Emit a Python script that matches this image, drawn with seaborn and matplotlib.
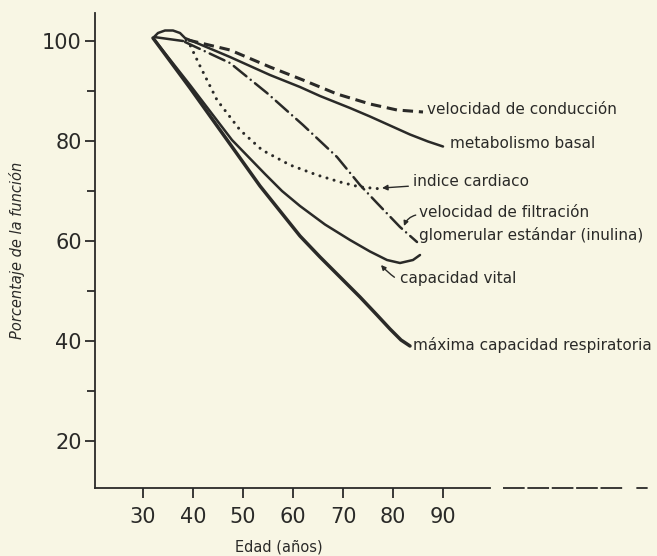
import matplotlib.pyplot as plt
import numpy as np
import pandas as pd
import seaborn as sns

# -------------------------- datos --------------------------
# edad (años) y porcentaje de la función
edad_conduccion = [39.0, 47.4, 55.4, 62.0, 68.8, 75.4, 80.8, 86.0]
pct_conduccion = [100.2, 98.2, 94.8, 92.2, 89.4, 87.4, 86.2, 85.8]

# el bucle inicial forma parte del trazo del metabolismo basal
edad_metabolismo = [38.0, 32.2, 33.0, 34.4, 36.0, 37.4, 38.4, 47.4, 55.4, 61.4, 65.4, 71.4,
                    75.4, 79.4, 83.4, 87.0, 90.0]
pct_metabolismo = [100.0, 100.8, 101.6, 102.1, 102.1, 101.6, 100.6, 96.8, 93.2, 90.8, 89.0, 86.6,
                   84.9, 83.1, 81.3, 79.9, 78.9]

edad_cardiaco = [38.6, 39.4, 41.4, 44.8, 49.4, 53.8, 59.4, 64.8, 69.4, 73.4, 77.8]
pct_cardiaco = [100.2, 99.2, 95.0, 88.2, 82.2, 78.2, 75.2, 73.2, 71.8, 70.8, 70.4]

edad_filtracion = [38.4, 47.4, 54.8, 62.0, 68.8, 73.4, 76.8, 81.4, 84.8]
pct_filtracion = [99.8, 95.6, 89.6, 83.2, 76.8, 71.2, 67.6, 62.8, 59.8]

edad_vital = [32.0, 39.4, 47.8, 54.4, 57.8, 61.4, 66.4, 71.4, 75.4, 78.8, 81.4, 84.0, 85.4]
pct_vital = [100.6, 91.2, 80.2, 73.4, 70.0, 67.0, 63.3, 60.2, 57.9, 56.2, 55.6, 56.2, 57.2]

edad_maxima = [32.0, 39.4, 46.4, 53.4, 61.4, 65.4, 69.4, 73.4, 76.8, 79.4, 81.6, 83.4]
pct_maxima = [100.6, 90.6, 80.8, 71.0, 61.0, 56.8, 52.8, 48.8, 45.2, 42.4, 40.2, 39.0]

x_ticks = [30, 40, 50, 60, 70, 80, 90]
y_ticks = [20, 40, 60, 80, 100]
y_minor = [30, 50, 70, 90]

# -------------------------- estilo --------------------------
fondo = '#f8f6e4'
tinta = '#2a2a28'

sns.set_theme(style='ticks')
plt.rcParams['font.family'] = ['DejaVu Sans']
plt.rcParams['axes.unicode_minus'] = False

fig = plt.figure(figsize=(6.57, 5.56), dpi=100, facecolor=fondo)
ax = fig.add_axes([95 / 657, 68 / 556, 395 / 657, 475 / 556], facecolor=fondo)


def curva(edad, pct, **kw):
    df = pd.DataFrame({'edad': edad, 'pct': pct})
    sns.lineplot(data=df, x='edad', y='pct', ax=ax, sort=False, estimator=None,
                 color=tinta, **kw)


curva(edad_conduccion, pct_conduccion, linewidth=2.2, linestyle=(0, (3.4, 1.9)))
curva(edad_metabolismo, pct_metabolismo, linewidth=1.8)
curva(edad_cardiaco, pct_cardiaco, linewidth=2.2, linestyle=(0, (0.01, 2.4)),
      dash_capstyle='round')
curva(edad_filtracion, pct_filtracion, linewidth=1.8, linestyle=(0, (6.5, 2.2, 0.01, 2.2)),
      dash_capstyle='round')
curva(edad_vital, pct_vital, linewidth=1.8)
curva(edad_maxima, pct_maxima, linewidth=2.5)

# -------------------------- rótulos de las curvas --------------------------
fs = 11
ax.text(86.8, 86.2, 'velocidad de conducción', fontsize=fs, color=tinta, va='center', clip_on=False)
ax.text(91.4, 79.6, 'metabolismo basal', fontsize=fs, color=tinta, va='center', clip_on=False)
ax.annotate('indice cardiaco', xy=(77.8, 70.6), xytext=(84.0, 71.8), fontsize=fs, color=tinta,
            va='center', annotation_clip=False,
            arrowprops=dict(arrowstyle='-|>', color=tinta, lw=1.0, mutation_scale=8,
                            shrinkA=1, shrinkB=0))
ax.annotate('velocidad de filtración\nglomerular estándar (inulina)', xy=(82.2, 63.0),
            xytext=(85.2, 63.4), fontsize=fs, color=tinta, va='center', linespacing=1.55,
            annotation_clip=False,
            arrowprops=dict(arrowstyle='-|>', color=tinta, lw=1.0, mutation_scale=7,
                            shrinkA=0, shrinkB=0, relpos=(0, 0.75),
                            connectionstyle='arc3,rad=0.3'))
ax.annotate('capacidad vital', xy=(77.6, 55.2), xytext=(81.4, 52.6), fontsize=fs, color=tinta,
            va='center', annotation_clip=False,
            arrowprops=dict(arrowstyle='-|>', color=tinta, lw=1.0, mutation_scale=7,
                            shrinkA=2, shrinkB=0, connectionstyle='arc3,rad=-0.4'))
ax.text(84.0, 39.2, 'máxima capacidad respiratoria', fontsize=fs, color=tinta, va='center',
        clip_on=False)

# -------------------------- ejes --------------------------
ax.set_xlim(20.4, 99.4)
ax.set_ylim(10.6, 105.6)
sns.despine(ax=ax)
for s in ['left', 'bottom']:
    ax.spines[s].set_color(tinta)
    ax.spines[s].set_linewidth(1.3)

ax.set_xticks(x_ticks)
ax.set_yticks(y_ticks)
ax.set_yticks(y_minor, minor=True)
ax.tick_params(axis='both', which='major', direction='out', length=7.5, width=1.3,
               color=tinta, labelcolor=tinta, labelsize=15)
ax.tick_params(axis='x', pad=6)
ax.tick_params(axis='y', pad=2)
ax.tick_params(axis='y', which='minor', direction='out', length=6, width=1.3, color=tinta)
ax.grid(False)

ax.set_xlabel('Edad (años)', fontsize=10.5, color=tinta)
ax.xaxis.set_label_coords(0.465, -0.124)
ax.xaxis.label.set_va('center')
ax.set_ylabel('Porcentaje de la función', fontsize=10.5, style='italic', color=tinta)
ax.yaxis.set_label_coords(-0.197, 0.5)
ax.yaxis.label.set_va('center')

# prolongación discontinua de la línea base, como en la página impresa
ax.plot([102.0, 126.0], [10.6, 10.6], color=tinta, lw=1.3, ls=(0, (12, 1.5)), clip_on=False)
ax.plot([128.8, 130.8], [10.6, 10.6], color=tinta, lw=1.3, clip_on=False)

fig.savefig('out.png', dpi=100, facecolor=fondo)
plt.close(fig)
